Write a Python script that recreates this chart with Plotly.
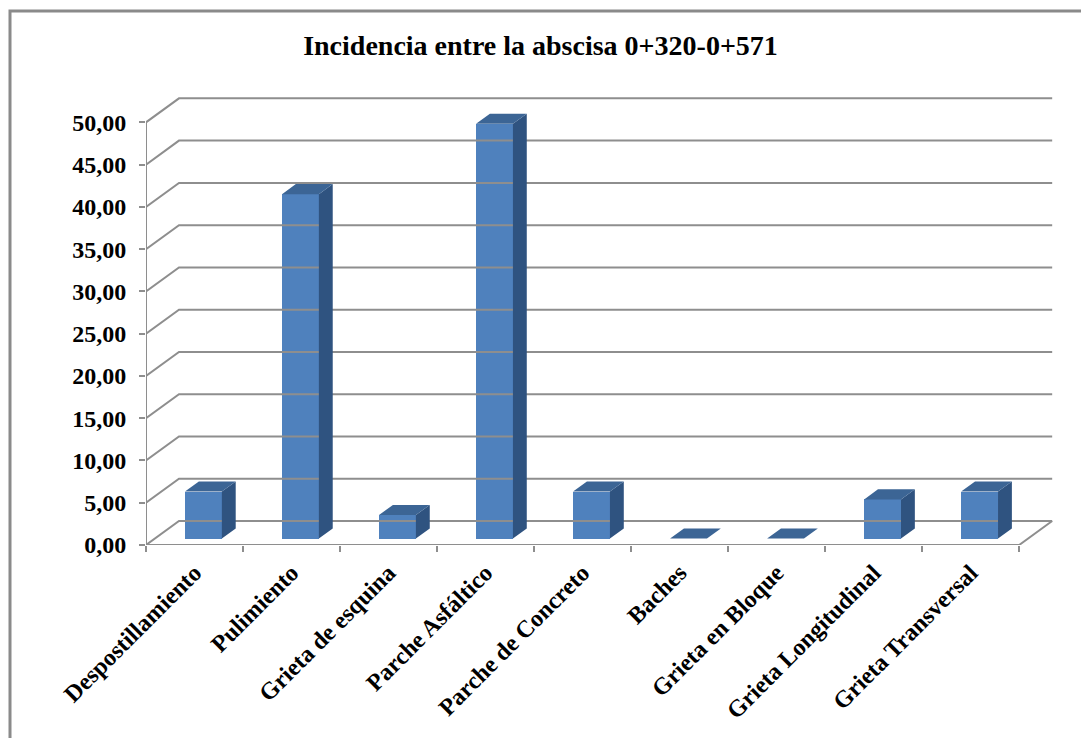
import plotly.graph_objects as go

# ---------------- data ----------------
categories = ["Despostillamiento", "Pulimiento", "Grieta de esquina", "Parche Asfáltico",
              "Parche de Concreto", "Baches", "Grieta en Bloque", "Grieta Longitudinal",
              "Grieta Transversal"]
values = [5.56, 40.74, 2.78, 49.07, 5.56, 0.0, 0.0, 4.63, 5.56]
y_ticks = [0, 5, 10, 15, 20, 25, 30, 35, 40, 45, 50]
title_text = "Incidencia entre la abscisa 0+320-0+571"

# ---------------- 3D projection style ----------------
DX = 0.34      # depth offset along x (category units)
DY = 2.84      # depth offset along y (value units)
F0, F1 = 0.27, 0.69   # bar depth range (fraction of full depth)
BAR_W = 0.38
FRONT = "#4F81BD"
TOP = "#3C6595"
SIDE = "#2F5380"
GRID = "#8e8e8e"
FONT = "Liberation Serif"

n = len(categories)
ymax = max(y_ticks)

fig = go.Figure()

# gridlines: side wall diagonals + back wall lines
gx, gy = [], []
for v in y_ticks:
    gx += [0, DX, n + DX, None]
    gy += [v, v + DY, v + DY, None]
# floor front edge, right floor edge, front value axis
gx += [0, n, n + DX, None, 0, 0, None]
gy += [0, 0, DY, None, 0, ymax, None]
fig.add_trace(go.Scatter(x=gx, y=gy, mode="lines", line=dict(color=GRID, width=2),
                         hoverinfo="skip", showlegend=False))

# bar front faces
centers = [i + 0.5 + F0 * DX for i in range(n)]
base0 = F0 * DY
fig.add_trace(go.Bar(x=centers, y=values, base=[base0] * n, width=BAR_W,
                     marker=dict(color=FRONT, line=dict(width=0)),
                     hoverinfo="skip", showlegend=False))

# top and side faces
ddx = (F1 - F0) * DX
ddy = (F1 - F0) * DY
tx, ty, sx, sy = [], [], [], []
for c, v in zip(centers, values):
    xl, xr = c - BAR_W / 2, c + BAR_W / 2
    top = base0 + v
    tx += [xl, xr, xr + ddx, xl + ddx, xl, None]
    ty += [top, top, top + ddy, top + ddy, top, None]
    if v > 0:
        sx += [xr, xr + ddx, xr + ddx, xr, xr, None]
        sy += [base0, base0 + ddy, top + ddy, top, base0, None]
fig.add_trace(go.Scatter(x=sx, y=sy, mode="lines", fill="toself", fillcolor=SIDE,
                         line=dict(width=0, color=SIDE), hoverinfo="skip", showlegend=False))
fig.add_trace(go.Scatter(x=tx, y=ty, mode="lines", fill="toself", fillcolor=TOP,
                         line=dict(width=0, color=TOP), hoverinfo="skip", showlegend=False))

W, H = 1081, 738
ML, MR, MT, MB = 146, 23, 97, 193
xr_max = n + 0.4
yr_max = ymax + 3.0

fig.update_layout(
    width=W, height=H,
    margin=dict(l=ML, r=MR, t=MT, b=MB, pad=0),
    paper_bgcolor="white", plot_bgcolor="white",
    separators=",.",
    font=dict(family=FONT, color="black"),
    title=dict(text=title_text, x=0.5, xanchor="center", y=1 - 45 / H, yanchor="middle",
               yref="container",
               font=dict(family=FONT, size=28, color="black", weight="bold")),
    xaxis=dict(range=[0, xr_max], showgrid=False, zeroline=False, showline=False,
               tickmode="array", tickvals=[i + 0.5 for i in range(n)], ticktext=categories,
               tickangle=-45, ticks="", ticklabelstandoff=8, automargin=False,
               tickfont=dict(family=FONT, size=24, color="black", weight="bold"),
               minor=dict(ticks="outside", tickmode="array", tickvals=list(range(n + 1)),
                          ticklen=6, tickwidth=2, tickcolor=GRID)),
    yaxis=dict(range=[0, yr_max], showgrid=False, zeroline=False, showline=False,
               tickmode="array", tickvals=y_ticks, tickformat=".2f",
               ticks="outside", ticklen=6, tickwidth=2, tickcolor=GRID,
               ticklabelstandoff=8, automargin=False,
               tickfont=dict(family=FONT, size=24, color="black", weight="bold")),
    bargap=0,
    hovermode=False,
    shapes=[dict(type="rect", xref="paper", yref="paper",
                 x0=(10 - ML) / (W - ML - MR), x1=1.2,
                 y0=-1.0, y1=(H - MB - 11) / (H - MB - MT),
                 line=dict(color="#8a8a8a", width=3), fillcolor="rgba(0,0,0,0)",
                 layer="below")],
)

fig.write_html("out.html", config={"displayModeBar": False},
               post_script="document.body.style.margin='0';")
